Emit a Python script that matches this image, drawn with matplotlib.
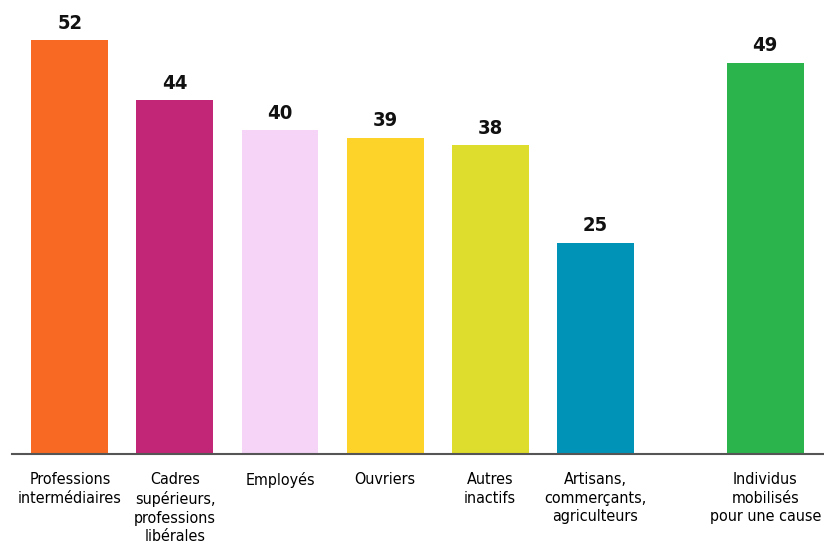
import numpy as np
import matplotlib.pyplot as plt

plt.rcParams['font.family'] = ['DejaVu Sans']
plt.rcParams['font.stretch'] = 'condensed'

# data
categories = ['Professions\nintermédiaires', 'Cadres\nsupérieurs,\nprofessions\nlibérales',
              'Employés', 'Ouvriers', 'Autres\ninactifs',
              'Artisans,\ncommerçants,\nagriculteurs', 'Individus\nmobilisés\npour une cause']
values = [52, 44, 40, 39, 38, 25, 49]
colors = ['#F86A23', '#C22677', '#F5D4F8', '#FDD32A', '#DEDC2C', '#0093B8', '#2BB44C']

x = np.array([0, 1, 2, 3, 4, 5, 6.62])
base = -3.15

fig = plt.figure(figsize=(8.24, 5.52), dpi=100)
ax = fig.add_axes([12/824, 98/552, 812/824, 454/552])

ax.bar(x, np.array(values) - base, bottom=base, width=0.733, color=colors)
for xi, v in zip(x, values):
    ax.text(xi, v + 1.0, str(v), ha='center', va='bottom', fontsize=14.5, fontweight='bold', color='#111111')

ax.set_xlim(-0.552, 7.18)
ax.set_ylim(base, 57.33)
ax.set_xticks(x)
ax.set_xticklabels(categories, fontsize=11.5, color='#000000', linespacing=1.3)
ax.tick_params(axis='x', length=0, pad=13)
ax.set_yticks([])
for s in ['top', 'right', 'left']:
    ax.spines[s].set_visible(False)
ax.spines['bottom'].set_color('#555555')
ax.spines['bottom'].set_linewidth(1.5)

plt.savefig('out.png', dpi=100)
